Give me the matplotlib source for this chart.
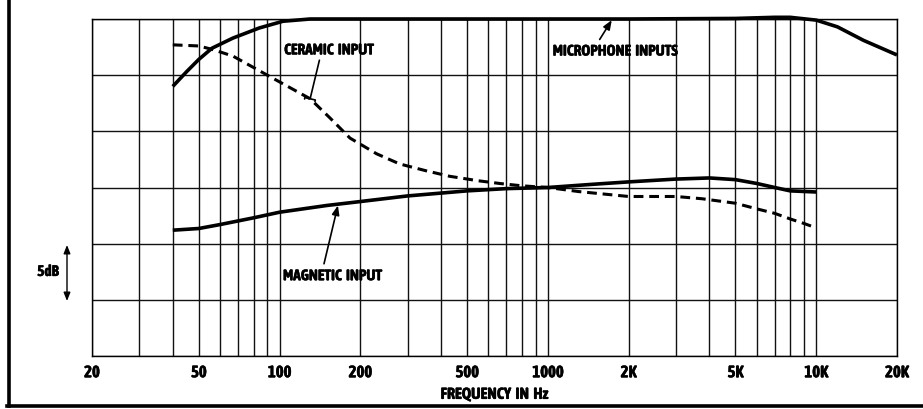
import matplotlib
matplotlib.use("Agg")
import matplotlib.pyplot as plt
from matplotlib import font_manager
import matplotlib.patheffects as pe
from matplotlib.lines import Line2D

# look for a narrow / condensed face, the original lettering is very condensed
narrow = [f for f in font_manager.fontManager.ttflist
          if 'Narrow' in f.name or 'Condensed' in f.name]
bold_narrow = [f.name for f in narrow if f.weight in ('bold', 700, 'heavy', 800)]
fams = sorted(set(bold_narrow)) or sorted(set(f.name for f in narrow))
plt.rcParams['font.family'] = fams[:1] + ['DejaVu Sans']
plt.rcParams['font.stretch'] = 'condensed'
plt.rcParams['font.weight'] = 'bold'
# a touch heavier, like the scanned lettering
heavy = [pe.withStroke(linewidth=0.3, foreground='black')]

# (Hz / dB relative to 1 kHz)
mic_f = [40, 45, 50, 56, 67, 84, 103, 130, 160, 200, 500, 1000, 2000, 5000, 7000, 8000, 10000, 12000, 15000, 20000]
mic_db = [9.0, 10.3, 11.4, 12.4, 13.3, 14.2, 14.8, 15.0, 15.0, 15.0, 15.0, 15.0, 15.0, 15.05, 15.15, 15.15, 14.9, 14.3, 13.1, 11.8]

cer_f = [40, 50, 56, 67, 84, 100, 130, 154, 183, 230, 280, 350, 430, 550, 660, 800, 1000, 1300, 2000, 3000, 3750, 5000, 6000, 7000, 8000, 9000, 10000]
cer_db = [12.7, 12.6, 12.3, 11.7, 10.4, 9.4, 7.9, 6.2, 4.4, 3.0, 2.1, 1.5, 1.0, 0.6, 0.36, 0.15, 0.0, -0.36, -0.8, -0.8, -1.0, -1.4, -1.9, -2.3, -2.8, -3.2, -3.6]

mag_f = [40, 50, 60, 80, 100, 150, 200, 300, 500, 700, 1000, 1500, 2000, 3000, 4000, 5000, 6000, 7000, 8000, 10000]
mag_db = [-3.8, -3.65, -3.3, -2.7, -2.2, -1.6, -1.25, -0.75, -0.3, -0.1, 0.0, 0.3, 0.5, 0.75, 0.85, 0.7, 0.36, 0.0, -0.3, -0.4]

tick_f = [20, 50, 100, 200, 500, 1000, 2000, 5000, 10000, 20000]
tick_lbl = ['20', '50', '100', '200', '500', '1000', '2K', '5K', '10K', '20K']

grid_f = [20, 30, 40, 50, 60, 70, 80, 90, 100, 200, 300, 400, 500, 600, 700, 800, 900,
          1000, 2000, 3000, 4000, 5000, 6000, 7000, 8000, 9000, 10000, 20000]
grid_db = [-15, -10, -5, 0, 5, 10, 15]

fig = plt.figure(figsize=(9.23, 4.10), dpi=100)
ax = fig.add_axes([92 / 923, 1 - 357 / 410, (897 - 92) / 923, (357 - 20) / 410])
ax.set_xscale('log')
ax.set_xlim(20, 20000)
ax.set_ylim(-15, 15)

for f in grid_f:
    ax.axvline(f, color='#111111', lw=1.0, zorder=1)
for d in grid_db:
    ax.axhline(d, color='#111111', lw=1.0, zorder=1)
for s in ax.spines.values():
    s.set_linewidth(1.0)

ax.plot(mic_f, mic_db, color='black', lw=2.6, solid_capstyle='butt', clip_on=False, zorder=3)
ax.plot(cer_f, cer_db, color='black', lw=2.2, ls=(0, (3.2, 1.9)), zorder=3)
ax.plot(mag_f, mag_db, color='black', lw=2.6, solid_capstyle='butt', zorder=3)

ax.set_xticks(tick_f)
ax.set_xticklabels(tick_lbl, fontsize=12, fontweight='bold')
for t in ax.get_xticklabels():
    t.set_path_effects(heavy)
ax.xaxis.set_minor_locator(plt.NullLocator())
ax.tick_params(axis='x', length=0, pad=6)
ax.set_yticks([])
ax.set_xlabel('FREQUENCY  IN  Hz', fontsize=11.5, fontweight='bold', labelpad=4, path_effects=heavy)

tkw = dict(fontsize=11, fontweight='bold', va='center', ha='left', path_effects=heavy)
ax.annotate('CERAMIC  INPUT', xy=(130, 7.9), xytext=(104, 12.2), **tkw,
            arrowprops=dict(arrowstyle='-[, widthB=0.35, lengthB=0.1', color='black', lw=1.2,
                            shrinkA=0, shrinkB=0, relpos=(0.4, 0)))
ax.annotate('MICROPHONE  INPUTS', xy=(1730, 14.9), xytext=(1042, 12.1), **tkw,
            arrowprops=dict(arrowstyle='-|>, head_length=0.5, head_width=0.2', color='black', lw=1.2,
                            shrinkA=2, shrinkB=0, relpos=(0.35, 1)))
ax.annotate('MAGNETIC  INPUT', xy=(165, -1.6), xytext=(103, -7.9), **tkw,
            arrowprops=dict(arrowstyle='-|>, head_length=0.5, head_width=0.2', color='black', lw=1.2,
                            shrinkA=2, shrinkB=0, relpos=(0.4, 1)))

# 5 dB scale marker
fig.text(48 / 923, 1 - 273 / 410, '5dB', fontsize=11, fontweight='bold', ha='center', va='center',
         path_effects=heavy)
ax.annotate('', xy=(67 / 923, 1 - 302 / 410), xytext=(67 / 923, 1 - 246 / 410),
            xycoords='figure fraction', textcoords='figure fraction',
            arrowprops=dict(arrowstyle='<|-|>, head_length=0.5, head_width=0.2', color='black', lw=1.0,
                            shrinkA=0, shrinkB=0))

# heavy frame on left and bottom
fig.add_artist(Line2D([8.5 / 923, 8.5 / 923], [1 - 407 / 410, 1.0], transform=fig.transFigure,
                      color='black', lw=2.6))
fig.add_artist(Line2D([7.5 / 923, 1.0], [1 - 407 / 410, 1 - 407 / 410], transform=fig.transFigure,
                      color='black', lw=2.6))

fig.savefig('out.png', dpi=100)
